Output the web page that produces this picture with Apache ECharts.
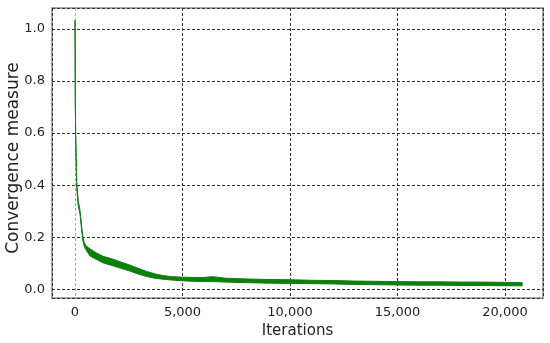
<!DOCTYPE html>
<html>
	<head>
		<meta charset="UTF-8">
		<title></title>
		<style>
			body { margin: 0; background: #fff; }
		</style>
	</head>
	<script src="https://cdn.jsdelivr.net/npm/echarts@6/dist/echarts.min.js"></script>
	<body>
		<div id="main" style="width: 550px;height:343px;"></div>
	</body>
	<script>
		var iters = [0, 15, 30, 55, 80, 150, 230, 300, 360, 430, 510, 700, 1000, 1300, 1700, 2100, 2500, 2900, 3300, 3700,
			4100, 4500, 5000, 5500, 6000, 6400, 7000, 8000, 9000, 10000, 11000, 12000, 13000, 14000, 15000, 16000,
			17000, 18000, 19000, 20000, 20800]
		// top edge of the noisy green trace
		var upper = [1.033, 0.73, 0.60, 0.50, 0.41, 0.34, 0.305, 0.25, 0.205, 0.18, 0.168, 0.155, 0.14, 0.127, 0.118, 0.106, 0.095, 0.082, 0.070, 0.060,
			0.053, 0.049, 0.047, 0.046, 0.046, 0.049, 0.043, 0.040, 0.038, 0.037, 0.035, 0.034, 0.032, 0.031, 0.030, 0.029,
			0.029, 0.028, 0.028, 0.027, 0.026]
		// bottom edge of the trace
		var lower = [1.033, 0.72, 0.59, 0.49, 0.39, 0.32, 0.29, 0.235, 0.19, 0.165, 0.152, 0.128, 0.115, 0.102, 0.092, 0.082, 0.072, 0.060, 0.050, 0.043,
			0.039, 0.036, 0.033, 0.031, 0.030, 0.030, 0.028, 0.026, 0.024, 0.023, 0.022, 0.021, 0.019, 0.018, 0.017, 0.016,
			0.016, 0.015, 0.015, 0.014, 0.014]

		var myChart = echarts.init(document.getElementById('main'));

		// one row per read-off point: x, top, bottom
		var bandData = []
		for (let i = 0; i < iters.length; i++) {
			bandData.push([iters[i], upper[i], lower[i]])
		}

		// the band is drawn as one polygon: top edge forwards, bottom edge backwards
		function renderBand(params, api) {
			if (params.dataIndex !== 0) return
			var pts = []
			for (let i = 0; i < bandData.length; i++) {
				pts.push(api.coord([bandData[i][0], bandData[i][1]]))
			}
			for (let i = bandData.length - 1; i >= 0; i--) {
				pts.push(api.coord([bandData[i][0], bandData[i][2]]))
			}
			return {
				type: 'polygon',
				shape: { points: pts },
				style: { fill: '#0b800b', stroke: '#137a13', lineWidth: 1 }
			}
		}

		var font = 'DejaVu Sans'

		var option = {
			animation: false,
			grid: {
				left: 52, top: 8, right: 7, bottom: 45,
				containLabel: false, outerBoundsMode: 'none',
				show: true, borderColor: '#888', borderWidth: 1.5
			},
			xAxis: {
				type: 'value',
				min: -1070,
				max: 21770,
				name: 'Iterations',
				nameLocation: 'middle',
				nameGap: 26,
				nameMoveOverlap: false,
				nameTextStyle: { fontFamily: font, fontSize: 15, color: '#222' },
				axisLine: { show: false },
				axisTick: { show: false },
				axisLabel: {
					showMinLabel: false, showMaxLabel: false, margin: 8,
					fontFamily: font, fontSize: 13, color: '#222',
					formatter: function (v) { return v.toLocaleString('en-US') }
				},
				// the line at 0 is fainter than the others in the original
				splitLine: { show: true, lineStyle: { color: ['#333', '#aaa', '#333', '#333', '#333', '#333', '#333'], type: [3, 2], width: 1 } }
			},
			yAxis: {
				type: 'value',
				min: -0.033,
				max: 1.08,
				name: 'Convergence measure',
				nameLocation: 'middle',
				nameGap: 30,
				nameMoveOverlap: false,
				nameTextStyle: { fontFamily: font, fontSize: 17, color: '#222', padding: [0, 10, 0, 0] },
				axisLine: { show: false },
				axisTick: { show: false },
				axisLabel: {
					showMinLabel: false, showMaxLabel: false, margin: 7,
					fontFamily: font, fontSize: 13, color: '#222',
					formatter: function (v) { return v.toFixed(1) }
				},
				splitLine: { show: true, lineStyle: { color: '#333', type: [3, 2], width: 1 } }
			},
			series: [
				{
					type: 'custom',
					data: bandData,
					encode: { x: 0, y: [1, 2] },
					renderItem: renderBand,
					clip: true
				}
			]
		};

		myChart.setOption(option);
	</script>
</html>
